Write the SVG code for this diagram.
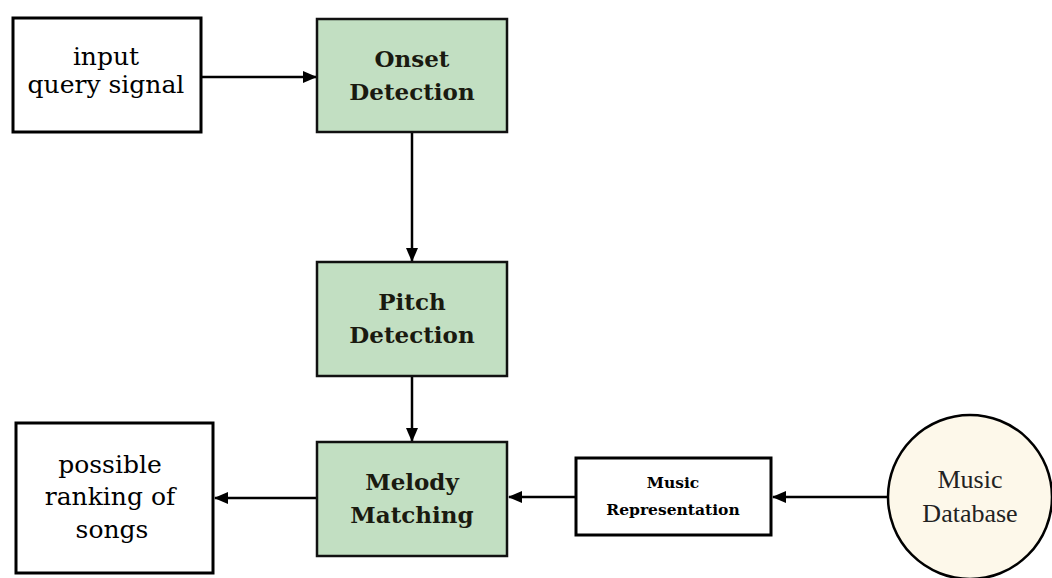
<svg xmlns="http://www.w3.org/2000/svg" width="1052" height="578" viewBox="0 0 1052 578">
<defs>
<style>
.box{fill:#ffffff;stroke:#000;stroke-width:3}
.proc{fill:#c2dfc2;stroke:#111;stroke-width:2.5}
.t{font-family:"DejaVu Serif","Liberation Serif",serif;fill:#000;text-anchor:middle}
.big{font-size:25px}
.bold{font-size:23px;font-weight:bold;fill:#1a1a10}
.small{font-size:15.5px;font-weight:bold}
.db{font-family:"Liberation Serif",serif;font-size:26px;fill:#222;text-anchor:middle}
.line{stroke:#000;stroke-width:2.5;fill:none}
</style>
<marker id="ah2" markerWidth="14" markerHeight="12" refX="13" refY="6" orient="auto" markerUnits="userSpaceOnUse" viewBox="0 0 14 12">
<path d="M0,0 L14,6 L0,12 Z" fill="#000"/>
</marker>
</defs>
<rect width="1052" height="578" fill="#ffffff"/>
<g id="connectors">
<line class="line" x1="201" y1="77" x2="316" y2="77" marker-end="url(#ah2)"/>
<line class="line" x1="412" y1="132" x2="412" y2="261" marker-end="url(#ah2)"/>
<line class="line" x1="412" y1="376" x2="412" y2="441" marker-end="url(#ah2)"/>
<line class="line" x1="316" y1="498" x2="215" y2="498" marker-end="url(#ah2)"/>
<line class="line" x1="576" y1="497" x2="509" y2="497" marker-end="url(#ah2)"/>
<line class="line" x1="888" y1="497" x2="773" y2="497" marker-end="url(#ah2)"/>
</g>
<g id="input">
<rect class="box" x="13" y="18" width="188" height="114"/>
<text class="t big" x="106" y="65">input</text>
<text class="t big" x="106" y="93">query signal</text>
</g>
<g id="onset">
<rect class="proc" x="317" y="19" width="190" height="113"/>
<text class="t bold" x="412" y="67">Onset</text>
<text class="t bold" x="412" y="100">Detection</text>
</g>
<g id="pitch">
<rect class="proc" x="317" y="262" width="190" height="114"/>
<text class="t bold" x="412" y="310">Pitch</text>
<text class="t bold" x="412" y="343">Detection</text>
</g>
<g id="melody">
<rect class="proc" x="317" y="442" width="190" height="114"/>
<text class="t bold" x="412" y="490">Melody</text>
<text class="t bold" x="412" y="523">Matching</text>
</g>
<g id="ranking">
<rect class="box" x="16" y="423" width="197" height="150"/>
<text class="t big" x="110" y="473">possible</text>
<text class="t big" x="110" y="505">ranking of</text>
<text class="t big" x="112" y="538">songs</text>
</g>
<g id="representation">
<rect class="box" x="576" y="458" width="195" height="77" stroke-width="2.5"/>
<text class="t small" x="673" y="488">Music</text>
<text class="t small" x="673" y="515">Representation</text>
</g>
<g id="database">
<circle cx="970" cy="497" r="82" fill="#fdf8ea" stroke="#000" stroke-width="2.5"/>
<text class="db" x="970" y="488">Music</text>
<text class="db" x="970" y="522">Database</text>
</g>
</svg>
